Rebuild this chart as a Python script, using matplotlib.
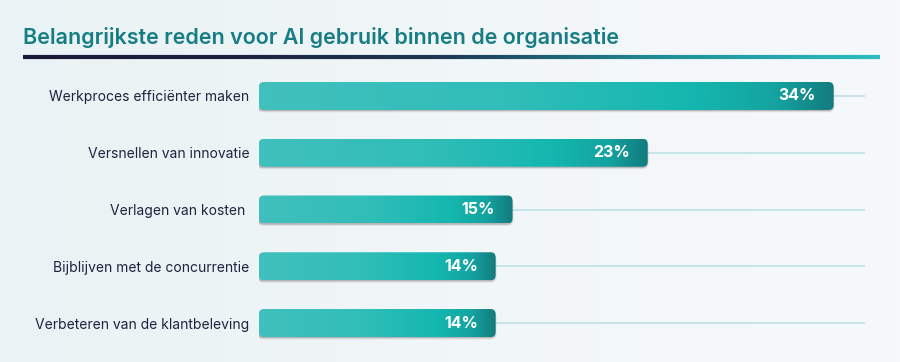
import numpy as np
import matplotlib
matplotlib.use("Agg")
import matplotlib.pyplot as plt
from matplotlib.patches import FancyBboxPatch
from matplotlib.colors import LinearSegmentedColormap
from matplotlib.collections import LineCollection

plt.rcParams['font.family'] = ['Inter', 'DejaVu Sans']

title = "Belangrijkste reden voor AI gebruik binnen de organisatie"
categories = ["Werkproces efficiënter maken", "Versnellen van innovatie",
              "Verlagen van kosten ", "Bijblijven met de concurrentie",
              "Verbeteren van de klantbeleving"]
values = [34, 23, 15, 14, 14]

W, H = 900, 362
fig = plt.figure(figsize=(W / 100, H / 100), dpi=100)

# background
bg = fig.add_axes([0, 0, 1, 1])
bg_cmap = LinearSegmentedColormap.from_list("bg", ["#e9f2f4", "#f1f6f8", "#f6f9fb"])
bg.imshow(np.linspace(0, 1, 256).reshape(1, -1), aspect="auto", cmap=bg_cmap,
          extent=(0, 1, 0, 1))
bg.set_xlim(0, 1)
bg.set_ylim(0, 1)
bg.axis("off")

# title and gradient rule
fig.text(23 / W, 1 - 37 / H, title, fontsize=15.5, fontweight="semibold",
         color="#177d84", va="center", ha="left")
xs = np.linspace(23 / W, 880 / W, 300)
segs = [[(xs[i], 1 - 57 / H), (xs[i + 1], 1 - 57 / H)] for i in range(len(xs) - 1)]
rule_cmap = LinearSegmentedColormap.from_list(
    "rule", ["#1a1838", "#1c2140", "#1d3a55", "#1f8e96", "#2bbcbc"])
lc = LineCollection(segs, colors=rule_cmap(np.linspace(0, 1, len(segs))),
                    linewidths=3, transform=bg.transAxes)
bg.add_collection(lc)

# bar axes
px_per_unit = 16.9
left_px, right_px = 259, 865
top_px, bot_px = 67.6, 351.4
ax = fig.add_axes([left_px / W, 1 - bot_px / H, (right_px - left_px) / W,
                   (bot_px - top_px) / H])
ax.set_xlim(0, (right_px - left_px) / px_per_unit)
ax.set_ylim(len(values) - 0.5, -0.5)
ax.patch.set_alpha(0)
for s in ax.spines.values():
    s.set_visible(False)
ax.set_xticks([])
ax.set_yticks(range(len(categories)))
ax.set_yticklabels(categories, fontsize=10, color="#1f2340")
ax.tick_params(axis="y", length=0, pad=7)

unit_y_px = (bot_px - top_px) / len(values)
aspect = px_per_unit / unit_y_px
bh = 28 / unit_y_px
bar_cmap = LinearSegmentedColormap.from_list(
    "bar", [(0, "#41c0bd"), (0.45, "#30bdb8"), (0.75, "#14b7af"),
            (0.9, "#14a3a0"), (1.0, "#127c7e")])

for i, v in enumerate(values):
    ax.plot([0, ax.get_xlim()[1]], [i, i], color="#bfe1e9", lw=1.2, zorder=1)
    # shadow
    for dx, dy, a in [(0.0, 2.5, 0.10), (0.0, 1.5, 0.15), (-0.06, 1.0, 0.18)]:
        sh = FancyBboxPatch((-0.08 + dx, i - bh / 2 + dy / unit_y_px), v + 0.12, bh,
                            boxstyle="round,pad=0,rounding_size=0.35",
                            mutation_aspect=aspect, fc="#5a4a4a", ec="none",
                            alpha=a, zorder=2)
        ax.add_patch(sh)
    box = FancyBboxPatch((0, i - bh / 2), v, bh,
                         boxstyle="round,pad=0,rounding_size=0.3",
                         mutation_aspect=aspect, fc="none", ec="none", zorder=3)
    ax.add_patch(box)
    im = ax.imshow(np.linspace(0, 1, 256).reshape(1, -1), aspect="auto",
                   cmap=bar_cmap, extent=(0, v, i + bh / 2, i - bh / 2), zorder=3)
    im.set_clip_path(box)
    ax.text(v - 1.05, i, f"{v}%", ha="right", va="center", color="white",
            fontsize=11.5, fontweight="bold", zorder=4)

ax.set_xlim(0, (right_px - left_px) / px_per_unit)
ax.set_ylim(len(values) - 0.5, -0.5)

fig.savefig("out.png", dpi=100)
